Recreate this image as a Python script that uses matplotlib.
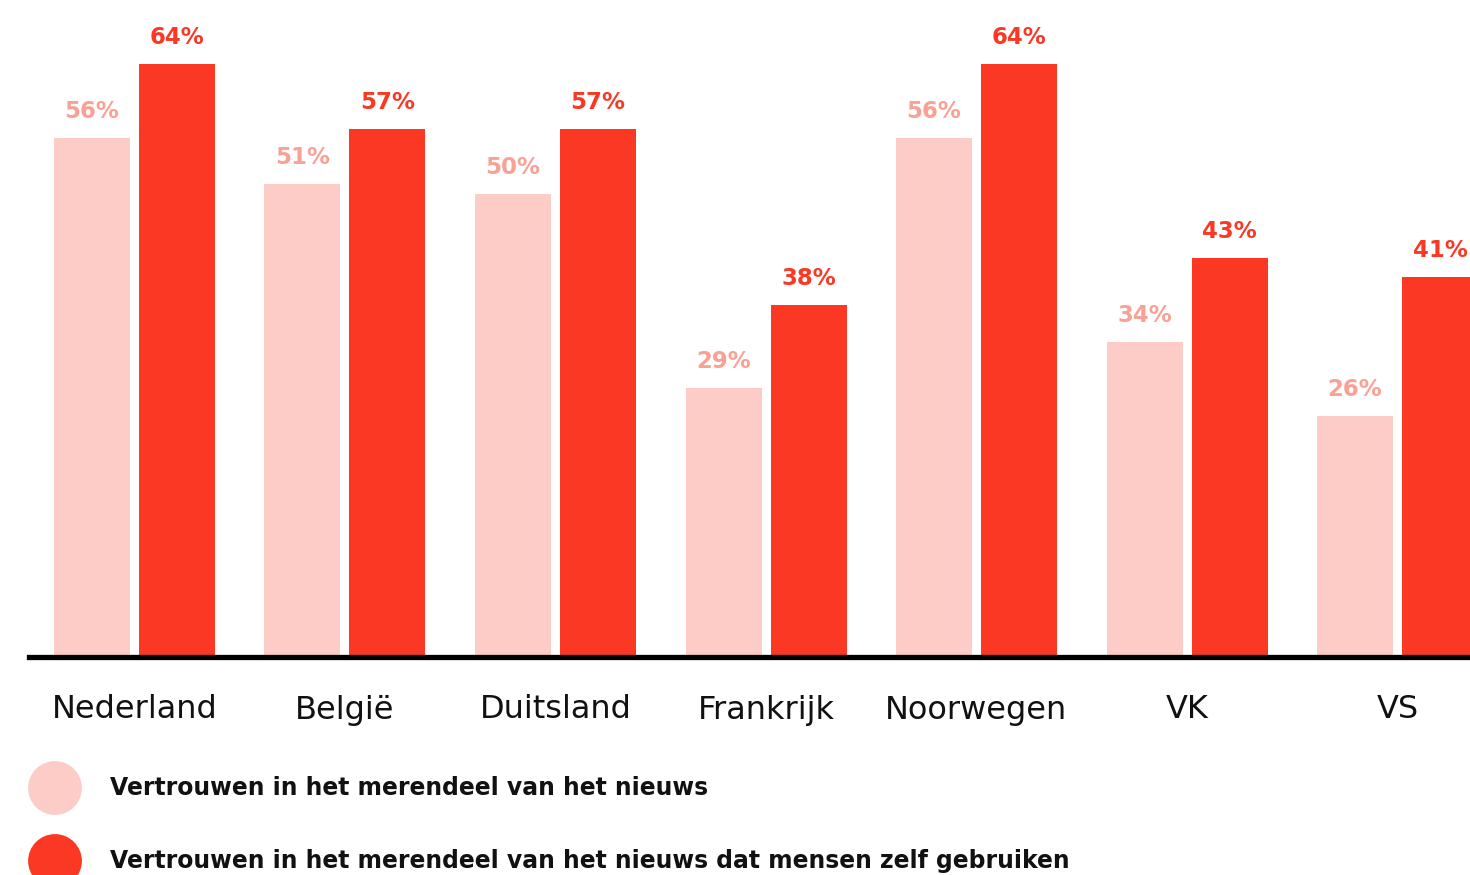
import matplotlib
matplotlib.use("Agg")
import matplotlib.pyplot as plt
import numpy as np

categories = ["Nederland", "België", "Duitsland", "Frankrijk", "Noorwegen", "VK", "VS"]
trust_all = [56, 51, 50, 29, 56, 34, 26]
trust_own = [64, 57, 57, 38, 64, 43, 41]
legend_labels = ["Vertrouwen in het merendeel van het nieuws",
                 "Vertrouwen in het merendeel van het nieuws dat mensen zelf gebruiken"]

LIGHT = "#FDCCC6"
LIGHT_TXT = "#F9A194"
DARK = "#FA3823"

plt.rcParams['font.family'] = ['DejaVu Sans']

W, H = 1470, 875
fig = plt.figure(figsize=(W / 100, H / 100), dpi=100)

# main axes: left at px 29, baseline at px 656 from top
ax = fig.add_axes([29 / W, (H - 656) / H, 1 - 29 / W, 656 / H])
ax.set_xlim(-0.501, 6.344)
ax.set_ylim(0, 656 / 9.25)
ax.axis("off")

x = np.arange(len(categories))
off = 42.5 / 210.5
bw = 76 / 210.5
ax.bar(x - off, trust_all, width=bw, color=LIGHT, zorder=2)
ax.bar(x + off, trust_own, width=bw, color=DARK, zorder=2)
ax.axhline(-0.08, color="black", lw=3.8, zorder=3, xmin=0, xmax=1, clip_on=False)

for xi, v in zip(x, trust_all):
    ax.text(xi - off, v + 1.6, f"{v}%", ha="center", va="bottom", color=LIGHT_TXT,
            fontsize=16.5, fontweight="bold", clip_on=False)
for xi, v in zip(x, trust_own):
    ax.text(xi + off, v + 1.6, f"{v}%", ha="center", va="bottom", color=DARK,
            fontsize=16.5, fontweight="bold", clip_on=False)

# overlay axes in pixel coordinates for category labels and legend
ov = fig.add_axes([0, 0, 1, 1])
ov.set_xlim(0, W)
ov.set_ylim(H, 0)
ov.axis("off")
ov.patch.set_alpha(0)

for i, c in enumerate(categories):
    px = 134.5 + 210.5 * i
    ov.text(px, 710, c, ha="center", va="center", fontsize=23, color="#111111")

for yy, col, lab in [(788, LIGHT, legend_labels[0]), (861, DARK, legend_labels[1])]:
    ov.scatter([55], [yy], s=1500, color=col, edgecolors="none", clip_on=False)
    ov.text(110, yy, lab, ha="left", va="center", fontsize=16.95, fontweight="bold", color="#111111")

fig.savefig("out.png", dpi=100)
